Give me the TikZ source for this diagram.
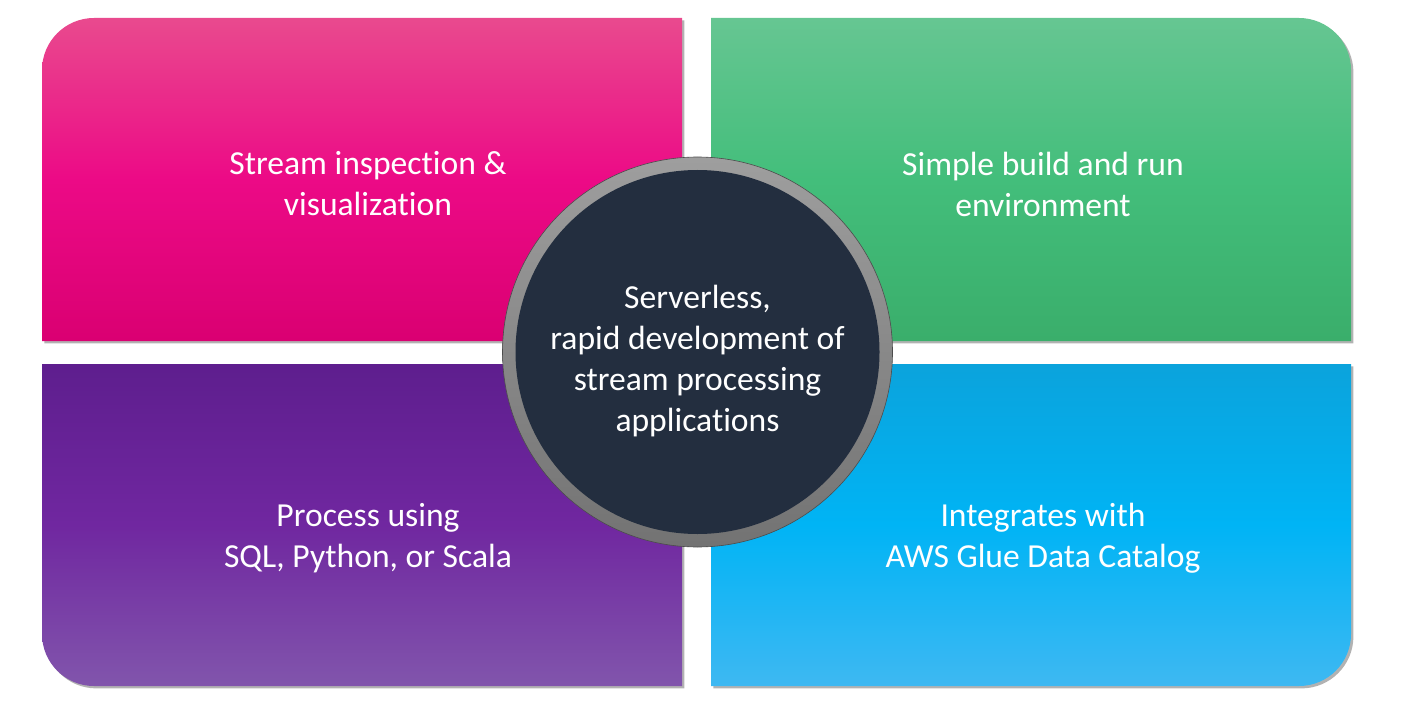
\documentclass[tikz,border=0pt]{standalone}
\usepackage{fontspec}
\setmainfont{Carlito}[Ligatures=NoCommon,RawFeature={-liga;-clig;-calt;-dlig}]
\usetikzlibrary{shadows}
\definecolor{pinkA}{HTML}{E94A8E}
\definecolor{pinkB}{HTML}{EC0A86}
\definecolor{pinkC}{HTML}{DA0072}
\definecolor{greenA}{HTML}{66C692}
\definecolor{greenB}{HTML}{43BE7B}
\definecolor{greenC}{HTML}{3AAE6B}
\definecolor{purpA}{HTML}{5E1E8E}
\definecolor{purpB}{HTML}{7027A0}
\definecolor{purpC}{HTML}{8155AC}
\definecolor{blueA}{HTML}{0BA3DC}
\definecolor{blueB}{HTML}{00B4F5}
\definecolor{blueC}{HTML}{3EB8F2}
\definecolor{hubfill}{HTML}{232E3F}
\begin{document}
\begin{tikzpicture}[x=0.5pt,y=0.5pt,
  tile/.style={drop shadow={shadow xshift=1.2pt,shadow yshift=-1.2pt,opacity=0.3,fill=black}},
  label/.style={text=white,align=center,font=\fontsize{16.8}{20.5}\selectfont}]
\useasboundingbox (0,0) rectangle (1406,713);
% top-left tile
\path[tile,top color=pinkA,bottom color=pinkC,middle color=pinkB]
  (42,372) -- (42,643) arc[start angle=180,end angle=90,radius=26pt] -- (682,695) -- (682,372) -- cycle;
% top-right tile
\path[tile,top color=greenA,bottom color=greenC,middle color=greenB]
  (711,372) -- (711,695) -- (1299,695) arc[start angle=90,end angle=0,radius=26pt] -- (1351,372) -- cycle;
% bottom-left tile
\path[tile,top color=purpA,bottom color=purpC,middle color=purpB]
  (42,349) -- (682,349) -- (682,27) -- (94,27) arc[start angle=270,end angle=180,radius=26pt] -- cycle;
% bottom-right tile
\path[tile,top color=blueA,bottom color=blueC,middle color=blueB]
  (711,349) -- (1351,349) -- (1351,79) arc[start angle=0,end angle=-90,radius=26pt] -- (711,27) -- cycle;
% tile captions
\node[label] (tl) at (368,529) {Stream inspection \&\\visualization};
\node[label] (tr) at (1043,529) {Simple build and run\\environment};
\node[label] (bl) at (368,175) {Process using\\SQL, Python, or Scala};
\node[label] (br) at (1043,175) {Integrates with\\AWS Glue Data Catalog};
% central hub with grey ring
\shade[top color=black!38,bottom color=black!55,draw=black!70,line width=0.3pt]
  (697.5,361) circle[radius=97.5pt];
\fill[hubfill] (697.5,361) circle[radius=91pt];
\node[label] (hub) at (697.5,352) {Serverless,\\rapid development of\\stream processing\\applications};
\end{tikzpicture}
\end{document}
